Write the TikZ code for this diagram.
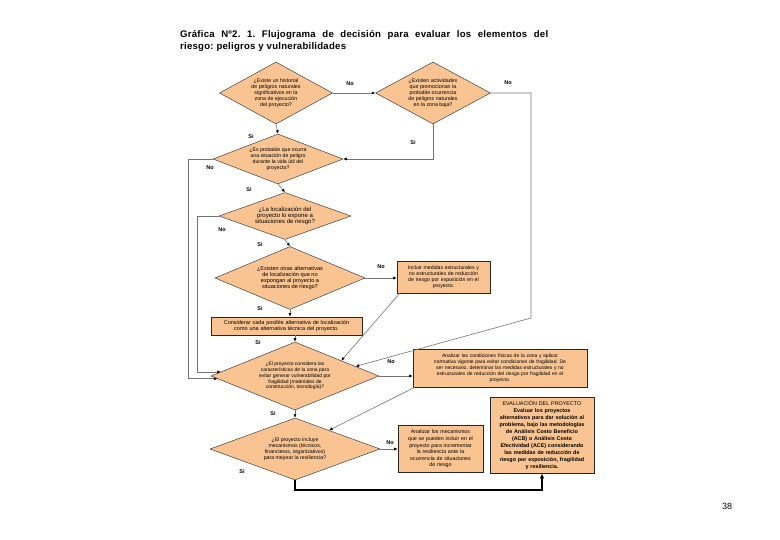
\documentclass[tikz,border=0pt]{standalone}
\usepackage{fontspec}
\setmainfont{Liberation Sans}
\usetikzlibrary{shapes.geometric,arrows.meta,calc}
\definecolor{peach}{RGB}{249,196,146}
\frenchspacing
\begin{document}
\begin{tikzpicture}[x=1pt,y=-1pt,
 dia/.style={diamond, draw=black!75, fill=peach, inner sep=0pt, align=center, font=\fontsize{5.3}{6}\selectfont, line width=0.5pt},
 box/.style={rectangle, draw=black!85, fill=peach, inner sep=1.5pt, align=center, font=\fontsize{5}{6}\selectfont, line width=0.6pt},
 con/.style={draw=black!55, line width=0.6pt, -{Latex[length=3.5pt,width=3pt,color=black]}},
 lbl/.style={font=\bfseries\fontsize{5.5}{6}\selectfont, inner sep=0pt}]
\useasboundingbox (0,0) rectangle (780,540);
\fill[white] (0,0) rectangle (780,540);

\node[anchor=north west, align=left, inner sep=0pt, font=\bfseries\fontsize{9.6}{12}\selectfont\addfontfeatures{LetterSpace=2.5}\frenchspacing] (title) at (180,30)
 {\makebox[368pt][s]{Gráfica Nº2. 1. Flujograma de decisión para evaluar los elementos del}\\riesgo: peligros y vulnerabilidades};

% diamonds
\node[dia, aspect=1.8, minimum width=113pt, minimum height=62pt] (D1) at (276,93)
 {¿Existe un historial\\de peligros naturales\\significativos en la\\zona de ejecución\\del proyecto?};
\node[dia, aspect=1.85, minimum width=115pt, minimum height=62pt] (D2) at (433,93)
 {¿Existen actividades\\que promocionan la\\probable ocurrencia\\de peligros naturales\\en la zona baja?};
\node[dia, aspect=2.6, minimum width=130pt, minimum height=50pt, font=\fontsize{5.2}{5.8}\selectfont] (D3) at (278,159)
 {¿Es probable que ocurra\\una situación de peligro\\durante la vida útil del\\proyecto?};
\node[dia, aspect=2.8, minimum width=132pt, minimum height=47pt, font=\fontsize{6}{6.4}\selectfont] (D4) at (285,216)
 {¿La localización del\\proyecto lo expone a\\situaciones de riesgo?};
\node[dia, aspect=2.4, minimum width=150pt, minimum height=63pt, font=\fontsize{5.6}{6.2}\selectfont] (D5) at (290,278)
 {¿Existen otras alternativas\\de localización que no\\expongan al proyecto a\\situaciones de riesgo?};
\node[dia, aspect=2.5, minimum width=168pt, minimum height=68pt, font=\fontsize{5}{5.8}\selectfont] (D6) at (295,376)
 {¿El proyecto considera las\\características de la zona para\\evitar generar vulnerabilidad por\\fragilidad (materiales de\\construcción, tecnología)?};
\node[dia, aspect=2.7, minimum width=170pt, minimum height=62pt, font=\fontsize{5.2}{5.9}\selectfont] (D7) at (295,449)
 {¿El proyecto incluye\\mecanismos (técnicos,\\financieros, organizativos)\\para mejorar la resiliencia?};

% boxes
\node[box, minimum width=151pt, minimum height=18pt, text width=146pt, font=\fontsize{5.5}{6.2}\selectfont] (Cons) at (286.5,326)
 {Considerar cada posible alternativa de localización\\como una alternativa técnica del proyecto.};
\node[box, minimum width=93pt, minimum height=32pt, text width=89pt, font=\fontsize{5.2}{6}\selectfont] (Incl) at (443.5,277)
 {Incluir medidas estructurales y\\no estructurales de reducción\\de riesgo por exposición en el\\proyecto.};
\node[box, minimum width=174pt, minimum height=38pt, text width=170pt, font=\fontsize{5}{6}\selectfont] (AnaC) at (500,368)
 {Analizar las condiciones físicas de la zona y aplicar\\normativa vigente para evitar condiciones de fragilidad. De\\ser necesario, determinar las medidas estructurales y no\\estructurales de reducción del riesgo por fragilidad en el\\proyecto.};
\node[box, minimum width=85pt, minimum height=47pt, text width=82pt, font=\fontsize{5.3}{6.6}\selectfont] (AnaM) at (440.5,449)
 {Analizar los mecanismos\\que se pueden incluir en el\\proyecto para incrementar\\la resiliencia ante la\\ocurrencia de situaciones\\de riesgo};
\node[box, minimum width=104pt, minimum height=76pt, text width=101pt, font=\bfseries\fontsize{5.4}{7}\selectfont] (Eval) at (542,435)
 {{\mdseries EVALUACIÓN DEL PROYECTO}\\Evaluar los proyectos\\alternativos para dar solución al\\problema, bajo las metodologías\\de Análisis Costo Beneficio\\(ACB) o Análisis Costo\\Efectividad (ACE) considerando\\las medidas de reducción de\\riesgo por exposición, fragilidad\\y resiliencia.};

% helper coordinates
\coordinate (L3) at (188,0);
\coordinate (L4) at (197,0);
\coordinate (R2) at (531,318);
\coordinate (B) at (0,490);
\coordinate (p3) at ($(D6.west)!0.08!(D6.south)$);
\coordinate (p4) at ($(D6.west)!0.12!(D6.north)$);
\coordinate (q1) at ($(D6.north)!0.55!(D6.east)$);
\coordinate (q2) at ($(D6.north)!0.72!(D6.east)$);
\coordinate (q3) at ($(D7.north)!0.4!(D7.east)$);

% connectors
\draw[con] (D1.east) -- (D2.west);
\draw[con] (D1.south) -- (D3.north);
\draw[con] (D2.south) |- (D3.east);
\draw[con] (D2.east) -- (D2.east -| R2) -- (R2) -- (q2);
\draw[con] (D3.west) -- (D3.west -| L3) -- (L3 |- p3) -- (p3);
\draw[con] (D3.south) -- (D4.north);
\draw[con] (D4.west) -- (D4.west -| L4) -- (L4 |- p4) -- (p4);
\draw[con] (D4.south) -- (D5.north);
\draw[con] (D5.east) -- (Incl.west |- D5.east);
\draw[con] (D5.south) -- (Cons.north -| D5.south);
\draw[con] (Cons.south -| D6.north) -- (D6.north);
\draw[con] ($(Incl.south west)+(3,0)$) -- (q1);
\draw[con] (D6.east) -- (AnaC.west |- D6.east);
\draw[con] ($(AnaC.south west)+(2,0)$) -- (q3);
\draw[con] (D6.south) -- (D7.north);
\draw[con] (D7.east) -- (AnaM.west);
\draw[line width=1.6pt, -{Latex[length=5pt,width=4.5pt]}] (D7.south) -- (D7.south |- B) -- (B -| Eval.south) -- (Eval.south);

% labels
\node[lbl] (n1) at (350,84) {No};
\node[lbl] (s1) at (251,137) {Si};
\node[lbl] (n2) at (508,83) {No};
\node[lbl] (s2) at (413,143) {Si};
\node[lbl] (n3) at (210,168) {No};
\node[lbl] (s3) at (249,190) {Si};
\node[lbl] (n4) at (222,230) {No};
\node[lbl] (s4) at (260,245) {Si};
\node[lbl] (n5) at (381,267) {No};
\node[lbl] (s5) at (260,309) {Si};
\node[lbl] (s6) at (258,343) {Si};
\node[lbl] (n6) at (391,362) {No};
\node[lbl] (s7) at (273,414) {Si};
\node[lbl] (n7) at (390,443) {No};
\node[lbl] (s8) at (242,472) {Si};

\node[font=\fontsize{9}{10}\selectfont, inner sep=0pt] (page) at (727,506) {38};
\end{tikzpicture}
\end{document}
